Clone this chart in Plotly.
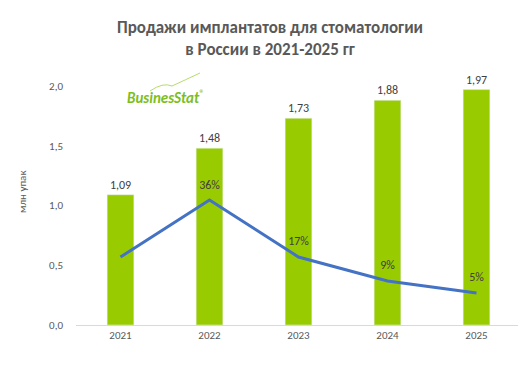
import plotly.graph_objects as go

years = ["2021", "2022", "2023", "2024", "2025"]
sales = [1.09, 1.48, 1.73, 1.88, 1.97]
sales_labels = ["1,09", "1,48", "1,73", "1,88", "1,97"]
growth = [17, 36, 17, 9, 5]
growth_labels = ["", "36%", "17%", "9%", "5%"]
y_ticks = [0, 0.5, 1.0, 1.5, 2.0]
y_tick_labels = ["0,0", "0,5", "1,0", "1,5", "2,0"]

FONT = "Carlito, Liberation Sans, Open Sans, sans-serif"
GREY = "#595959"

# page has an 8px body margin; figure is placed at (8, 8)
W, H = 518, 358
L, R, T, B = 68, 5, 78, 41
PW, PH = W - L - R, H - T - B


def px(xp):  # page x -> paper fraction
    return (xp - 8 - L) / PW


def py(yp):  # page y -> paper fraction
    return (H - B - (yp - 8)) / PH


lab_idx = [i for i, t in enumerate(growth_labels) if t]

fig = go.Figure()
fig.add_trace(go.Bar(
    x=years, y=sales, text=sales_labels, textposition="outside",
    textfont=dict(size=12, color="#404040", family=FONT),
    marker=dict(color="#99CC00"), cliponaxis=False, width=0.3,
    hoverinfo="skip", showlegend=False,
))
fig.add_trace(go.Scatter(
    x=years, y=growth, yaxis="y2", mode="lines",
    line=dict(color="#4472C4", width=3),
    hoverinfo="skip", showlegend=False,
))
fig.add_trace(go.Scatter(
    x=[years[i] for i in lab_idx], y=[growth[i] for i in lab_idx],
    text=[growth_labels[i] for i in lab_idx], yaxis="y2",
    mode="markers+text", marker=dict(size=12, opacity=0),
    textposition="top center", cliponaxis=False,
    textfont=dict(size=12, color="#404040", family=FONT),
    hoverinfo="skip", showlegend=False,
))

fig.update_layout(
    width=W, height=H,
    margin=dict(l=L, r=R, t=T, b=B),
    paper_bgcolor="white", plot_bgcolor="white",
    font=dict(family=FONT, color=GREY, size=11),
    title=dict(
        text="<b>Продажи имплантатов для стоматологии<br>в России в 2021-2025 гг</b>",
        x=262 / W, xanchor="center", y=1 - 25 / H, yanchor="middle",
        font=dict(size=17, color=GREY, family=FONT),
    ),
    xaxis=dict(
        type="category", showgrid=False, showline=True,
        linecolor="#D9D9D9", linewidth=1, ticks="",
        tickfont=dict(size=11, color=GREY),
    ),
    yaxis=dict(
        range=[0, 2.0], tickvals=y_ticks, ticktext=y_tick_labels,
        showgrid=False, zeroline=False, showline=False, ticks="",
        tickfont=dict(size=11, color=GREY), ticklabelstandoff=12,
    ),
    yaxis2=dict(
        overlaying="y", range=[-5.67, 74], visible=False,
    ),
    annotations=[
        dict(text="млн упак", textangle=-90,
             x=px(22), y=py(192), xanchor="center", yanchor="middle",
             xref="paper", yref="paper", showarrow=False,
             font=dict(size=11, color=GREY, family=FONT)),
        dict(text="<b><i>BusinesStat</i></b><sup>®</sup>",
             x=px(166), y=py(97), xanchor="center", yanchor="middle",
             xref="paper", yref="paper", showarrow=False,
             font=dict(size=15, color="#7DBE1F", family=FONT)),
    ],
    shapes=[
        dict(type="path", xref="paper", yref="paper",
             path=(f"M {px(150)} {py(91)} Q {px(163)} {py(82)} {px(172)} {py(86)} "
                   f"Q {px(185)} {py(80)} {px(200)} {py(73)}"),
             line=dict(color="#B5DC6E", width=1)),
    ],
)

fig.write_html("out.html")
